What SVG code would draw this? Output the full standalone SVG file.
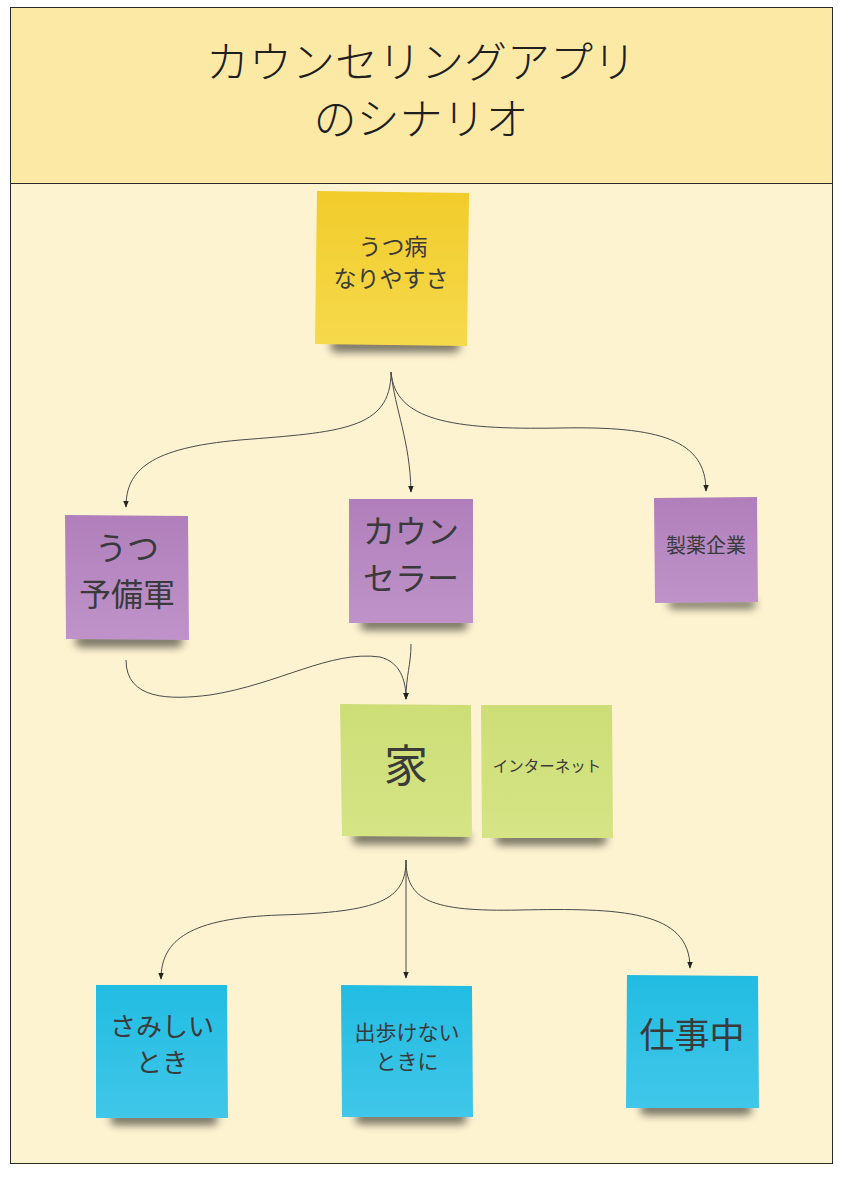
<svg xmlns="http://www.w3.org/2000/svg" width="849" height="1177" viewBox="0 0 849 1177">
<style>
text{font-family:"Noto Sans CJK JP","Noto Sans",sans-serif;fill:#3a3a3a;text-anchor:middle}
.title{font-size:43px;fill:#1f1f1f;font-weight:300}
.conn{fill:none;stroke:#4a4a4a;stroke-width:1}
</style>
<defs>
<marker id="arr" viewBox="0 0 10 10" refX="9" refY="5" markerWidth="7" markerHeight="7" orient="auto-start-reverse" markerUnits="userSpaceOnUse"><path d="M0,1 L10,5 L0,9 z" fill="#222"/></marker>
<filter id="sh" x="-30%" y="-100%" width="160%" height="300%"><feGaussianBlur stdDeviation="4"/></filter>
<linearGradient id="gy" x1="0" y1="0" x2="0" y2="1"><stop offset="0" stop-color="#f1cc2a"/><stop offset="1" stop-color="#f6d94c"/></linearGradient>
<linearGradient id="gp" x1="0" y1="0" x2="0" y2="1"><stop offset="0" stop-color="#b07fbb"/><stop offset="1" stop-color="#bf93c9"/></linearGradient>
<linearGradient id="gg" x1="0" y1="0" x2="0" y2="1"><stop offset="0" stop-color="#cdde77"/><stop offset="1" stop-color="#d5e485"/></linearGradient>
<linearGradient id="gb" x1="0" y1="0" x2="0" y2="1"><stop offset="0" stop-color="#22bce2"/><stop offset="1" stop-color="#40c7e9"/></linearGradient>
</defs>
<rect x="10.5" y="7.5" width="822" height="1156" fill="#fdf3d1" stroke="#2a2a2a" stroke-width="1"/>
<rect x="10.5" y="7.5" width="822" height="176" fill="#fde9a6" stroke="#2a2a2a" stroke-width="1"/>
<text class="title" x="421" y="78">カウンセリングアプリ</text>
<text class="title" x="421" y="135">のシナリオ</text>

<g id="connectors">
<path class="conn" d="M391,372 C391,430 340,432 240,440 C150,448 126,470 126,507" marker-end="url(#arr)"/>
<path class="conn" d="M391,372 C395,410 410,440 411,492" marker-end="url(#arr)"/>
<path class="conn" d="M391,372 C395,420 450,430 560,428 C660,426 706,440 706,491" marker-end="url(#arr)"/>
<path class="conn" d="M126,660 C126,700 170,700 210,695 C280,684 330,650 380,657 C400,662 406,680 406,699" marker-end="url(#arr)"/>
<path class="conn" d="M411,644 C411,665 406,675 406,699" marker-end="url(#arr)"/>
<path class="conn" d="M406,860 C406,900 380,912 280,915 C190,918 161,940 161,979" marker-end="url(#arr)"/>
<path class="conn" d="M406,860 L406,978" marker-end="url(#arr)"/>
<path class="conn" d="M406,860 C406,900 430,912 520,910 C620,908 690,910 690,968" marker-end="url(#arr)"/>
</g>

<g id="n-utsubyo">
<rect x="330" y="340" width="130" height="12" rx="6" fill="#000" opacity="0.55" filter="url(#sh)"/>
<polygon points="317,191 469,193 467,346 315,344" fill="url(#gy)"/>
<text x="393" y="255" font-size="23">うつ病</text>
<text x="391" y="287" font-size="23">なりやすさ</text>
</g>

<g id="n-yobigun">
<rect x="75" y="635" width="108" height="12" rx="6" fill="#000" opacity="0.55" filter="url(#sh)"/>
<polygon points="65,515 188,516 189,640 66,639" fill="url(#gp)"/>
<text x="127" y="560" font-size="32">うつ</text>
<text x="127" y="606" font-size="32">予備軍</text>
</g>

<g id="n-counselor">
<rect x="360" y="618" width="108" height="12" rx="6" fill="#000" opacity="0.55" filter="url(#sh)"/>
<polygon points="349,499 473,499 473,623 349,623" fill="url(#gp)"/>
<text x="411" y="543" font-size="32">カウン</text>
<text x="411" y="590" font-size="32">セラー</text>
</g>

<g id="n-seiyaku">
<rect x="668" y="599" width="88" height="10" rx="5" fill="#000" opacity="0.5" filter="url(#sh)"/>
<polygon points="654,498 757,497 758,602 655,603" fill="url(#gp)"/>
<text x="706" y="553" font-size="20">製薬企業</text>
</g>

<g id="n-ie">
<rect x="352" y="832" width="118" height="12" rx="6" fill="#000" opacity="0.55" filter="url(#sh)"/>
<polygon points="340,704 471,705 472,837 342,836" fill="url(#gg)"/>
<text x="406" y="782" font-size="44">家</text>
</g>

<g id="n-internet">
<rect x="495" y="833" width="112" height="12" rx="6" fill="#000" opacity="0.55" filter="url(#sh)"/>
<polygon points="481,705 612,705 613,838 482,838" fill="url(#gg)"/>
<text x="547" y="772" font-size="15.5">インターネット</text>
</g>

<g id="n-samishii">
<rect x="110" y="1113" width="108" height="12" rx="6" fill="#000" opacity="0.55" filter="url(#sh)"/>
<polygon points="96,985 227,985 228,1118 96,1118" fill="url(#gb)"/>
<text x="162" y="1036" font-size="26">さみしい</text>
<text x="162" y="1072" font-size="26">とき</text>
</g>

<g id="n-dearukenai">
<rect x="355" y="1112" width="112" height="12" rx="6" fill="#000" opacity="0.55" filter="url(#sh)"/>
<polygon points="341,985 472,986 473,1117 342,1117" fill="url(#gb)"/>
<text x="407" y="1040" font-size="21">出歩けない</text>
<text x="407" y="1069" font-size="21">ときに</text>
</g>

<g id="n-shigoto">
<rect x="640" y="1103" width="112" height="12" rx="6" fill="#000" opacity="0.55" filter="url(#sh)"/>
<polygon points="627,975 758,976 759,1108 626,1108" fill="url(#gb)"/>
<text x="692" y="1048" font-size="35">仕事中</text>
</g>
</svg>
